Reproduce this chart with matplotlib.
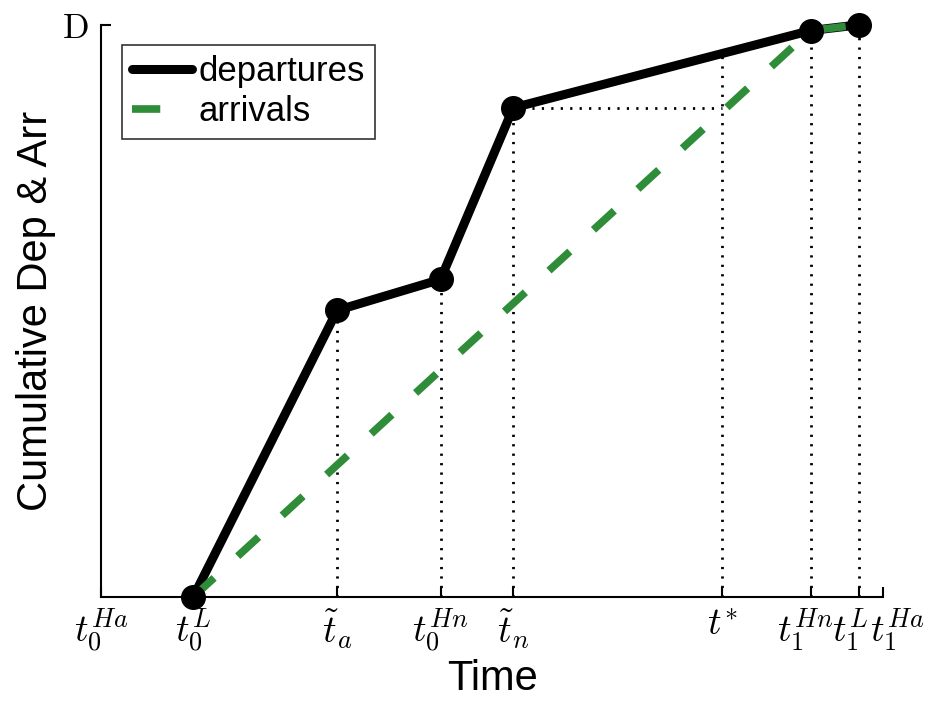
import numpy as np
import matplotlib
matplotlib.use("Agg")
import matplotlib.pyplot as plt
from matplotlib.transforms import ScaledTranslation

plt.rcParams['font.family'] = ['Liberation Sans', 'DejaVu Sans']
plt.rcParams['mathtext.fontset'] = 'cm'

# Event times on a normalised horizon [0, 1]
tick_names = [r'$t_0^{Ha}$', r'$t_0^{L}$', r'$\tilde{t}_a$', r'$t_0^{Hn}$',
              r'$\tilde{t}_n$', r'$t^{*}$', r'$t_1^{Hn}$', r'$t_1^{L}$', r'$t_1^{Ha}$']
tick_times = [0.0, 0.118, 0.302, 0.434, 0.527, 0.794, 0.907, 0.969, 1.0]

# Cumulative departures (fraction of D)
dep_t = [0.118, 0.302, 0.434, 0.527, 0.907, 0.969]
dep_y = [0.0, 0.501, 0.555, 0.855, 0.990, 1.0]

# Cumulative arrivals (fraction of D)
arr_t = [0.118, 0.907, 0.969]
arr_y = [0.0, 0.990, 1.0]

t_star = 0.794
t_tilde_n = 0.527

green = '#2f8c38'
dot_style = dict(color='black', lw=2.0, dashes=(0.8, 2.6), zorder=1)

fig = plt.figure(figsize=(9.26, 7.09), dpi=100)
ax = fig.add_axes([0.109, 0.158, 0.845, 0.807])

# Dotted guide lines from each departure event down to the time axis
for t, y in zip(dep_t[1:], dep_y[1:]):
    ax.plot([t, t], [0, y], **dot_style)
y_star = np.interp(t_star, dep_t, dep_y)
ax.plot([t_star, t_star], [0, y_star], **dot_style)
y_n = np.interp(t_tilde_n, dep_t, dep_y)
ax.plot([t_tilde_n, t_star], [y_n, y_n], **dot_style)

ax.plot(dep_t, dep_y, color='black', lw=6.5, solid_capstyle='round',
        solid_joinstyle='round', zorder=2, label='departures')
ax.plot(arr_t, arr_y, color=green, lw=5.5, dashes=(3.7, 4.2), zorder=3,
        label='arrivals')
ax.plot(dep_t, dep_y, 'o', color='black', ms=17, zorder=4)

ax.set_xlim(0, 1)
ax.set_ylim(0, 1)
ax.set_xticks(tick_times)
ax.set_xticklabels(tick_names, fontsize=27)
ax.set_yticks([1.0])
ax.set_yticklabels([r'$\mathrm{D}$'], fontsize=25)

ax.spines['top'].set_visible(False)
ax.spines['right'].set_visible(False)
for s in ('left', 'bottom'):
    ax.spines[s].set_linewidth(1.5)
ax.tick_params(axis='both', direction='in', length=7, width=1.5)
ax.tick_params(axis='x', pad=7)
ax.tick_params(axis='y', pad=9)

# Spread the crowded labels at the right end a little apart
xlabels = ax.get_xticklabels()
for idx, dx in ((6, -5), (7, -9), (8, 14)):
    xlabels[idx].set_transform(xlabels[idx].get_transform()
                               + ScaledTranslation(dx / 100, 0, fig.dpi_scale_trans))

ax.set_xlabel('Time', fontsize=30, labelpad=3)
ax.set_ylabel('Cumulative Dep & Arr', fontsize=30, labelpad=4)

leg = ax.legend(loc='upper left', bbox_to_anchor=(0.027, 0.965),
                borderaxespad=0, fontsize=25, frameon=True, fancybox=False,
                edgecolor='black', handlelength=1.7, handletextpad=0.2,
                labelspacing=0.2, borderpad=0.3)
leg.get_frame().set_linewidth(1.2)

for line in ax.lines:
    line.set_clip_on(False)

fig.savefig('out.png', dpi=100)
